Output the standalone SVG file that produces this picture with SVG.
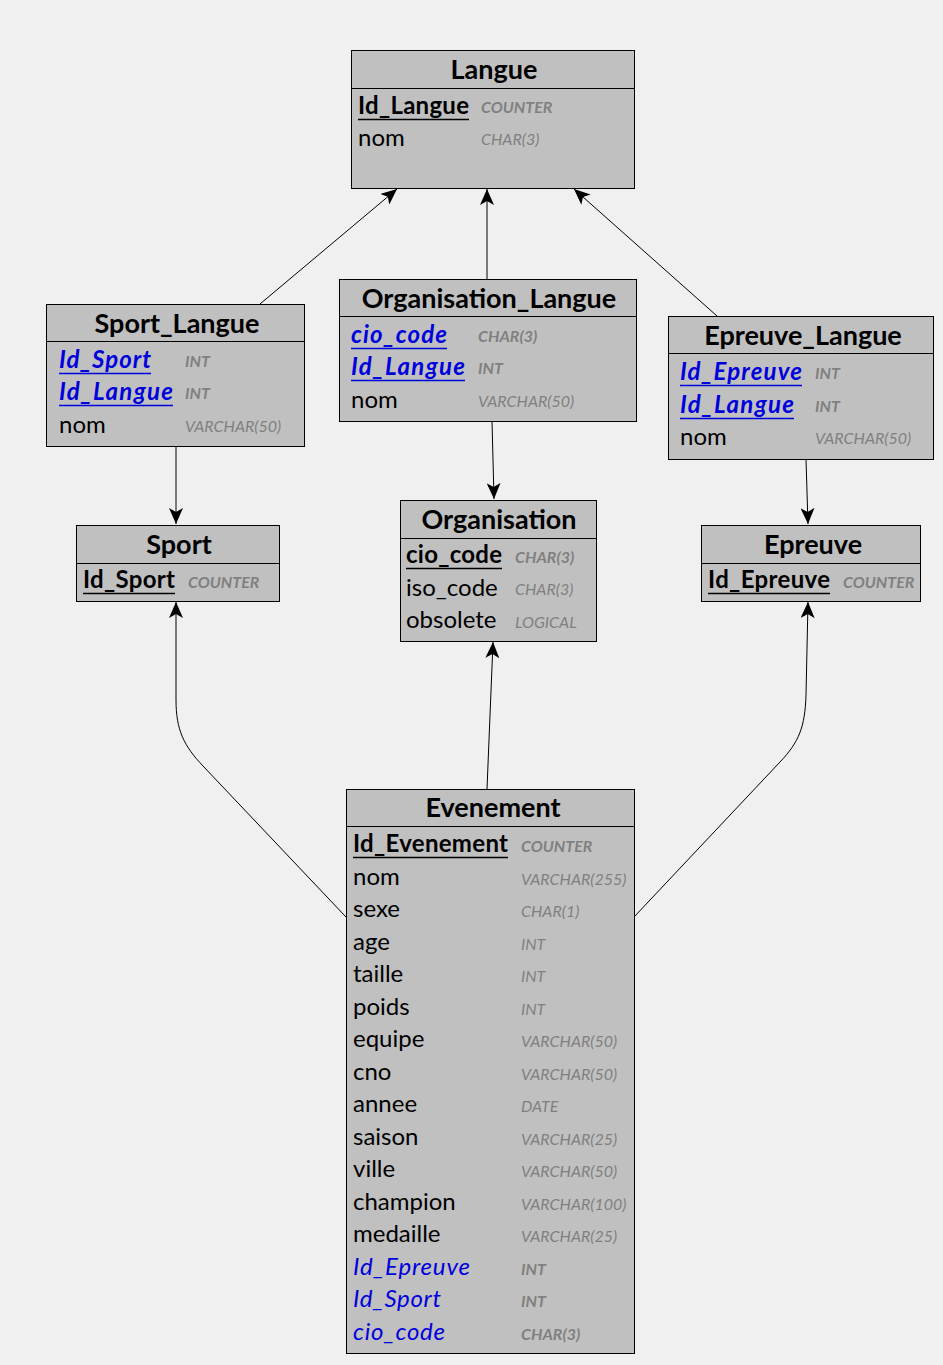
<svg xmlns="http://www.w3.org/2000/svg" width="943" height="1365" viewBox="0 0 943 1365">
<defs>
<style>
.bg{fill:#f0f0f0}
.box{fill:#c0c0c0;stroke:#000;stroke-width:1}
.sep{stroke:#000;stroke-width:1}
.t{font-family:Lato,"Liberation Sans",sans-serif;font-size:27px;font-weight:bold;fill:#000;text-anchor:middle}
.n{font-family:Lato,"Liberation Sans",sans-serif;font-size:24px;fill:#000}
.k{font-weight:bold}
.fk{fill:#0000dd;font-style:italic}
.ul{stroke:#000;stroke-width:1.5}
.ulb{stroke:#0000dd;stroke-width:1.5}
.ty{font-family:Lato,"Liberation Sans",sans-serif;font-size:16px;font-style:italic;fill:#808080}
.tb{font-weight:bold}
.c{fill:none;stroke:#000;stroke-width:1}
</style>
<marker id="ar" markerWidth="17" markerHeight="14" refX="16" refY="7" orient="auto" markerUnits="userSpaceOnUse">
<path d="M16,7 L0,0 L4,7 L0,14 Z" fill="#000"/>
</marker>
</defs>
<rect class="bg" x="0" y="0" width="943" height="1365"/>

<g id="connectors">
<path class="c" d="M260,304 L397,189" marker-end="url(#ar)"/>
<path class="c" d="M487,279 L487,189" marker-end="url(#ar)"/>
<path class="c" d="M717,316 L574,189" marker-end="url(#ar)"/>
<path class="c" d="M176,446 L176,524" marker-end="url(#ar)"/>
<path class="c" d="M492,421 L494,499" marker-end="url(#ar)"/>
<path class="c" d="M806,459 L808,524" marker-end="url(#ar)"/>
<path class="c" d="M346,917 L203,766 C184,746 176,730 176,700 L176,602" marker-end="url(#ar)"/>
<path class="c" d="M487,789 L493,642" marker-end="url(#ar)"/>
<path class="c" d="M634,917 L780,762 C799,742 805,727 806,695 L808,602" marker-end="url(#ar)"/>
</g>

<g id="Langue">
<rect class="box" x="351.5" y="50.5" width="283" height="138"/>
<line class="sep" x1="351.5" y1="88.5" x2="634.5" y2="88.5"/>
<text class="t" x="494" y="79">Langue</text>
<text class="n k" x="358" y="114" textLength="111">Id_Langue</text>
<line class="ul" x1="358" y1="119.5" x2="469" y2="119.5"/>
<text class="ty tb" x="481" y="113">COUNTER</text>
<text class="n" x="358" y="146">nom</text>
<text class="ty" x="481" y="145">CHAR(3)</text>
</g>

<g id="Sport_Langue">
<rect class="box" x="46.5" y="304.5" width="258" height="142"/>
<line class="sep" x1="46.5" y1="341.5" x2="304.5" y2="341.5"/>
<text class="t" x="177" y="333">Sport_Langue</text>
<text class="n k fk" x="59" y="368" textLength="92">Id_Sport</text>
<line class="ulb" x1="59" y1="373.5" x2="151" y2="373.5"/>
<text class="ty tb" x="185" y="367">INT</text>
<text class="n k fk" x="59" y="400" textLength="114">Id_Langue</text>
<line class="ulb" x1="59" y1="405.5" x2="173" y2="405.5"/>
<text class="ty tb" x="185" y="399">INT</text>
<text class="n" x="59" y="433">nom</text>
<text class="ty" x="185" y="432">VARCHAR(50)</text>
</g>

<g id="Organisation_Langue">
<rect class="box" x="339.5" y="279.5" width="297" height="142"/>
<line class="sep" x1="339.5" y1="316.5" x2="636.5" y2="316.5"/>
<text class="t" x="489" y="308">Organisation_Langue</text>
<text class="n k fk" x="351" y="343" textLength="96">cio_code</text>
<line class="ulb" x1="351" y1="348.5" x2="447" y2="348.5"/>
<text class="ty tb" x="478" y="342">CHAR(3)</text>
<text class="n k fk" x="351" y="375" textLength="114">Id_Langue</text>
<line class="ulb" x1="351" y1="380.5" x2="465" y2="380.5"/>
<text class="ty tb" x="478" y="374">INT</text>
<text class="n" x="351" y="408">nom</text>
<text class="ty" x="478" y="407">VARCHAR(50)</text>
</g>

<g id="Epreuve_Langue">
<rect class="box" x="668.5" y="316.5" width="265" height="143"/>
<line class="sep" x1="668.5" y1="353.5" x2="933.5" y2="353.5"/>
<text class="t" x="803" y="345">Epreuve_Langue</text>
<text class="n k fk" x="680" y="380" textLength="122">Id_Epreuve</text>
<line class="ulb" x1="680" y1="385.5" x2="802" y2="385.5"/>
<text class="ty tb" x="815" y="379">INT</text>
<text class="n k fk" x="680" y="413" textLength="114">Id_Langue</text>
<line class="ulb" x1="680" y1="418.5" x2="794" y2="418.5"/>
<text class="ty tb" x="815" y="412">INT</text>
<text class="n" x="680" y="445">nom</text>
<text class="ty" x="815" y="444">VARCHAR(50)</text>
</g>

<g id="Sport">
<rect class="box" x="76.5" y="525.5" width="203" height="76"/>
<line class="sep" x1="76.5" y1="563.5" x2="279.5" y2="563.5"/>
<text class="t" x="179" y="554">Sport</text>
<text class="n k" x="83" y="588" textLength="92">Id_Sport</text>
<line class="ul" x1="83" y1="593.5" x2="175" y2="593.5"/>
<text class="ty tb" x="188" y="588">COUNTER</text>
</g>

<g id="Organisation">
<rect class="box" x="400.5" y="500.5" width="196" height="141"/>
<line class="sep" x1="400.5" y1="538.5" x2="596.5" y2="538.5"/>
<text class="t" x="499" y="529">Organisation</text>
<text class="n k" x="406" y="563" textLength="96">cio_code</text>
<line class="ul" x1="406" y1="568.5" x2="502" y2="568.5"/>
<text class="ty tb" x="515" y="563">CHAR(3)</text>
<text class="n" x="406" y="596">iso_code</text>
<text class="ty" x="515" y="595">CHAR(3)</text>
<text class="n" x="406" y="628">obsolete</text>
<text class="ty" x="515" y="628">LOGICAL</text>
</g>

<g id="Epreuve">
<rect class="box" x="701.5" y="525.5" width="219" height="76"/>
<line class="sep" x1="701.5" y1="563.5" x2="920.5" y2="563.5"/>
<text class="t" x="813" y="554">Epreuve</text>
<text class="n k" x="708" y="588" textLength="122">Id_Epreuve</text>
<line class="ul" x1="708" y1="593.5" x2="830" y2="593.5"/>
<text class="ty tb" x="843" y="588">COUNTER</text>
</g>

<g id="Evenement">
<rect class="box" x="346.5" y="789.5" width="288" height="564"/>
<line class="sep" x1="346.5" y1="826.5" x2="634.5" y2="826.5"/>
<text class="t" x="493" y="817">Evenement</text>
<text class="n k" x="353" y="852" textLength="155">Id_Evenement</text>
<line class="ul" x1="353" y1="857.5" x2="508" y2="857.5"/>
<text class="ty tb" x="521" y="852">COUNTER</text>
<text class="n" x="353" y="885">nom</text>
<text class="ty" x="521" y="885">VARCHAR(255)</text>
<text class="n" x="353" y="917">sexe</text>
<text class="ty" x="521" y="917">CHAR(1)</text>
<text class="n" x="353" y="950">age</text>
<text class="ty" x="521" y="950">INT</text>
<text class="n" x="353" y="982">taille</text>
<text class="ty" x="521" y="982">INT</text>
<text class="n" x="353" y="1015">poids</text>
<text class="ty" x="521" y="1015">INT</text>
<text class="n" x="353" y="1047">equipe</text>
<text class="ty" x="521" y="1047">VARCHAR(50)</text>
<text class="n" x="353" y="1080">cno</text>
<text class="ty" x="521" y="1080">VARCHAR(50)</text>
<text class="n" x="353" y="1112">annee</text>
<text class="ty" x="521" y="1112">DATE</text>
<text class="n" x="353" y="1145">saison</text>
<text class="ty" x="521" y="1145">VARCHAR(25)</text>
<text class="n" x="353" y="1177">ville</text>
<text class="ty" x="521" y="1177">VARCHAR(50)</text>
<text class="n" x="353" y="1210">champion</text>
<text class="ty" x="521" y="1210">VARCHAR(100)</text>
<text class="n" x="353" y="1242">medaille</text>
<text class="ty" x="521" y="1242">VARCHAR(25)</text>
<text class="n fk" x="353" y="1275" textLength="117">Id_Epreuve</text>
<text class="ty tb" x="521" y="1275">INT</text>
<text class="n fk" x="353" y="1307" textLength="88">Id_Sport</text>
<text class="ty tb" x="521" y="1307">INT</text>
<text class="n fk" x="353" y="1340" textLength="92">cio_code</text>
<text class="ty tb" x="521" y="1340">CHAR(3)</text>
</g>
</svg>
